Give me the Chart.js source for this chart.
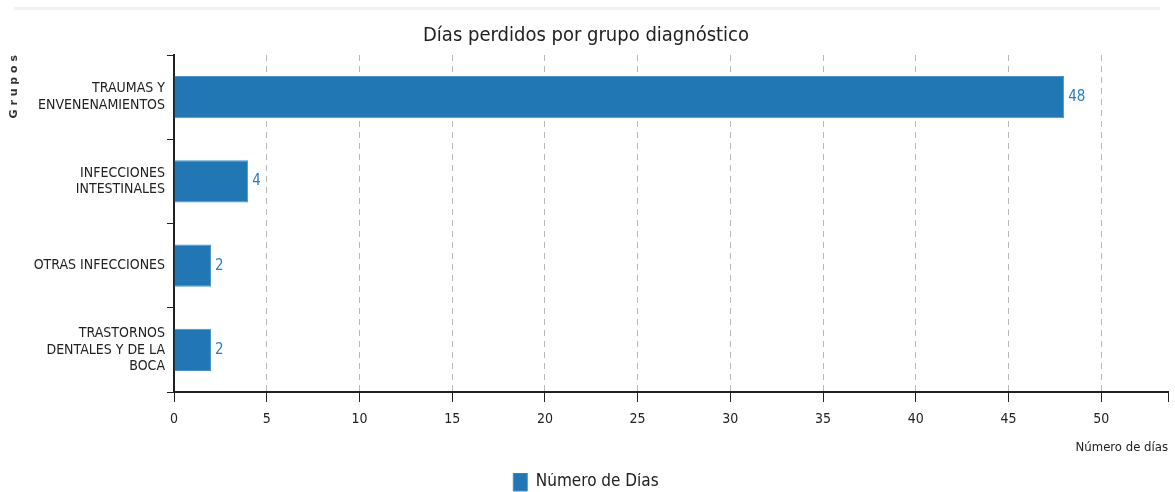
<!DOCTYPE html>
<html>
<head>
<meta charset="utf-8">
<script src="https://cdn.jsdelivr.net/npm/chart.js@4"></script>
<style>
  html, body { margin: 0; padding: 0; background: #fff; }
  #wrap { position: relative; width: 1175px; height: 492px; overflow: hidden; }
  #topline { position: absolute; left: 14px; top: 7px; width: 1146px; height: 3px; background: #eef4f6; }
</style>
</head>
<body>
<div id="wrap">
  <div id="topline"></div>
  <canvas id="myChart" width="1175" height="492"></canvas>
</div>
<script>
// datos
var grupos = [
  ['TRAUMAS Y', 'ENVENENAMIENTOS'],
  ['INFECCIONES', 'INTESTINALES'],
  'OTRAS INFECCIONES',
  ['TRASTORNOS', 'DENTALES Y DE LA', 'BOCA']
]
var dias = [48, 4, 2, 2]
var xTicks = [0, 5, 10, 15, 20, 25, 30, 35, 40, 45, 50]
var xMax = 53.6

var narrow = "'Liberation Sans Narrow', 'DejaVu Sans Condensed', 'Liberation Sans', sans-serif"
var blue = '#2077b4'

// etiquetas de valor al final de cada barra
var valueLabels = {
  id: 'valueLabels',
  afterDatasetsDraw: function(chart) {
    var ctx = chart.ctx
    var meta = chart.getDatasetMeta(0)
    ctx.save()
    ctx.font = '15px ' + narrow
    ctx.fillStyle = '#2a7fc0'
    ctx.textAlign = 'left'
    ctx.textBaseline = 'middle'
    meta.data.forEach(function(bar, i) {
      ctx.fillText(dias[i], bar.x + 4, bar.y)
    })
    ctx.restore()
  }
}

var ctx = document.getElementById('myChart').getContext('2d')
var myChart = new Chart(ctx, {
  type: 'bar',
  data: {
    labels: grupos,
    datasets: [{
      label: 'Número de Días',
      data: dias,
      backgroundColor: blue,
      borderColor: '#4a92c8',
      borderWidth: 1,
      barPercentage: 0.5,
      categoryPercentage: 1
    }]
  },
  plugins: [valueLabels],
  options: {
    indexAxis: 'y',
    responsive: false,
    animation: false,
    layout: { padding: { left: 4, right: 7, top: 0, bottom: -9 } },
    scales: {
      x: {
        min: 0,
        max: xMax,
        afterBuildTicks: function(scale) {
          scale.ticks = xTicks.map(function(v) { return {value: v} }).concat([{value: xMax}])
        },
        afterFit: function(scale) {
          scale.height = 81
          scale.paddingRight = 0
        },
        grid: {
          color: function(c) { return (c.tick && c.tick.value === xMax) ? 'rgba(0,0,0,0)' : '#b8b8b8' },
          tickColor: '#222',
          tickLength: 10,
          tickWidth: 1
        },
        border: { display: true, color: '#222', width: 2, dash: [6, 5] },
        ticks: {
          color: '#222',
          padding: 9,
          font: { size: 14, family: narrow },
          maxRotation: 0,
          autoSkip: false,
          callback: function(v) { return xTicks.indexOf(v) >= 0 ? v : '' }
        },
        title: {
          display: true,
          text: 'Número de días',
          align: 'end',
          color: '#222',
          font: { size: 13, family: narrow },
          padding: { top: 4, bottom: 18 }
        }
      },
      y: {
        offset: true,
        afterFit: function(scale) { scale.width = 170 },
        grid: {
          offset: true,
          drawOnChartArea: false,
          tickColor: '#222',
          tickLength: 7
        },
        border: { display: true, color: '#222', width: 2 },
        ticks: {
          color: '#222',
          padding: 2,
          crossAlign: 'near',
          font: { size: 14, family: narrow }
        },
        title: {
          display: true,
          text: 'G r u p o s',
          align: 'end',
          color: '#333',
          font: { size: 11, weight: 'bold', family: "'DejaVu Sans', sans-serif" },
          padding: { top: 4, bottom: 4 }
        }
      }
    },
    plugins: {
      title: {
        display: true,
        text: 'Días perdidos por grupo diagnóstico',
        color: '#222',
        font: { size: 20, weight: 'normal', family: narrow },
        padding: { top: 24, bottom: 7 }
      },
      legend: {
        position: 'bottom',
        labels: {
          color: '#222',
          boxWidth: 14,
          boxHeight: 18,
          padding: 0,
          font: { size: 17, family: narrow }
        }
      },
      tooltip: { enabled: false }
    }
  }
})
</script>
</body>
</html>
